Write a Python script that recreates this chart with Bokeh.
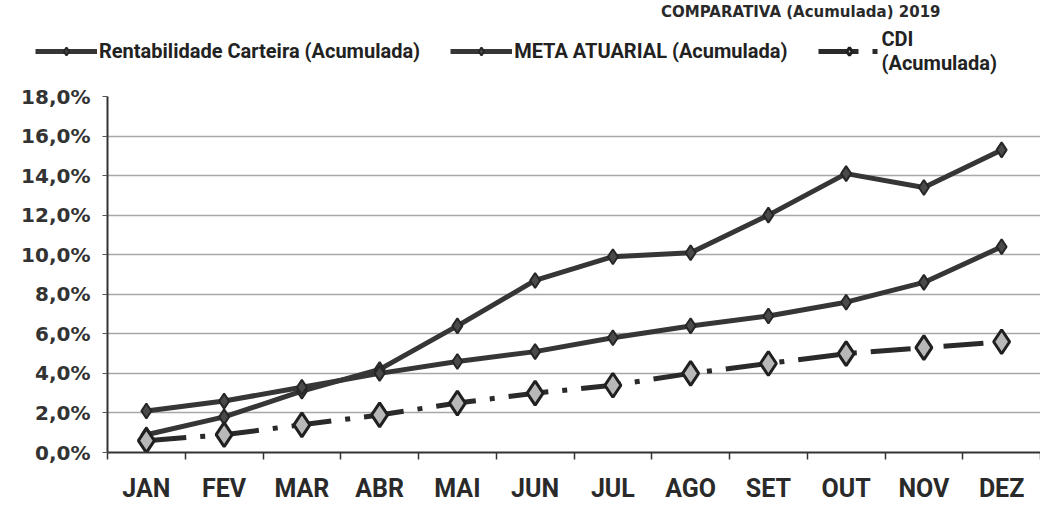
from bokeh.plotting import figure
from bokeh.layouts import column
from bokeh.models import Legend, LegendItem, FixedTicker, Range1d
from bokeh.embed import file_html
from bokeh.resources import INLINE

months = ["JAN", "FEV", "MAR", "ABR", "MAI", "JUN", "JUL", "AGO", "SET", "OUT", "NOV", "DEZ"]
rentabilidade = [0.9, 1.8, 3.1, 4.2, 6.4, 8.7, 9.9, 10.1, 12.0, 14.1, 13.4, 15.3]
meta_atuarial = [2.1, 2.6, 3.3, 4.0, 4.6, 5.1, 5.8, 6.4, 6.9, 7.6, 8.6, 10.4]
cdi = [0.6, 0.9, 1.4, 1.9, 2.5, 3.0, 3.4, 4.0, 4.5, 5.0, 5.3, 5.6]
y_ticks = [0, 2, 4, 6, 8, 10, 12, 14, 16, 18]
y_tick_labels = ["0,0%", "2,0%", "4,0%", "6,0%", "8,0%", "10,0%", "12,0%", "14,0%", "16,0%", "18,0%"]
legend_labels = ["Rentabilidade Carteira (Acumulada)", "META ATUARIAL (Acumulada)", "CDI\n(Acumulada)"]
title_text = "COMPARATIVA (Acumulada) 2019"

x = list(range(1, len(months) + 1))
series_list = [rentabilidade, meta_atuarial, cdi]

DARK = "#363636"
styles = [
    dict(line=dict(line_color=DARK, line_width=5),
         marker=dict(marker="diamond", size=15, fill_color="#4a4a4a", line_color="#262626", line_width=2)),
    dict(line=dict(line_color=DARK, line_width=5),
         marker=dict(marker="diamond", size=15, fill_color="#4a4a4a", line_color="#262626", line_width=2)),
    dict(line=dict(line_color="#2a2a2a", line_width=5, line_dash="40 14 5 14"),
         marker=dict(marker="diamond", size=24, fill_color="#b8b8b8", line_color="#202020", line_width=3)),
]

# ---- header figure: title + legend (its data lie outside its view) ----
top = figure(width=1040, height=80, output_backend="svg", toolbar_location=None,
             x_range=Range1d(0.5, len(months) + 0.5), y_range=Range1d(-101, -100),
             x_axis_location=None, y_axis_location=None,
             min_border_left=0, min_border_right=0, min_border_top=0, min_border_bottom=0,
             title=title_text)
if "frame_align" in top.properties():
    top.frame_align = False
top.outline_line_color = None
top.xgrid.grid_line_color = None
top.ygrid.grid_line_color = None
top.title.text_font = "DejaVu Sans"
top.title.text_font_style = "bold"
top.title.text_font_size = "15px"
top.title.text_color = "#2a2a2a"
top.title.align = "right"
top.title.offset = 100
top.title.standoff = 0

items = []
for label, series, st in zip(legend_labels, series_list, styles):
    lr = top.line(x, series, **st["line"])
    mr = top.scatter(x, series, **st["marker"])
    items.append(LegendItem(label=label, renderers=[lr, mr]))

legend = Legend(items=items, orientation="horizontal", location=(35, 5))
legend.label_text_font = "Roboto"
legend.label_text_font_style = "bold"
legend.label_text_font_size = "20px"
legend.label_text_color = "#222222"
legend.glyph_width = 62
legend.glyph_height = 20
legend.label_standoff = 2
legend.spacing = 30
legend.padding = 0
legend.margin = 0
legend.border_line_color = None
legend.background_fill_alpha = 0
top.add_layout(legend, "center")

# ---- main chart ----
p = figure(width=1040, height=432, output_backend="svg", toolbar_location=None,
           x_range=Range1d(0.5, len(months) + 0.5), y_range=Range1d(0, 18),
           min_border_left=107, min_border_right=0, min_border_top=16, min_border_bottom=60)
if "frame_align" in p.properties():
    p.frame_align = False
p.outline_line_color = None
p.background_fill_color = "white"

for series, st in zip(series_list, styles):
    p.line(x, series, **st["line"])
    p.scatter(x, series, **st["marker"])

p.xaxis.ticker = FixedTicker(ticks=x, minor_ticks=[i + 0.5 for i in range(len(months) + 1)])
p.xaxis.major_label_overrides = {i: m for i, m in zip(x, months)}
p.xaxis.major_tick_line_alpha = 0
p.xaxis.major_tick_out = 7
p.xaxis.major_tick_in = 0
p.xaxis.minor_tick_out = 7
p.xaxis.minor_tick_in = 0
p.xaxis.minor_tick_line_color = "#333333"
p.xaxis.minor_tick_line_width = 1.5
p.xaxis.axis_line_color = "#333333"
p.xaxis.axis_line_width = 2
p.xaxis.major_label_text_font = "Roboto"
p.xaxis.major_label_text_font_style = "bold"
p.xaxis.major_label_text_font_size = "25px"
p.xaxis.major_label_text_color = "#2a2a2a"
p.xaxis.major_label_standoff = 14

p.yaxis.ticker = FixedTicker(ticks=y_ticks)
p.yaxis.major_label_overrides = {t: l for t, l in zip(y_ticks, y_tick_labels)}
p.yaxis.minor_tick_line_color = None
p.yaxis.major_tick_out = 5
p.yaxis.major_tick_in = 0
p.yaxis.major_tick_line_color = "#555555"
p.yaxis.axis_line_color = "#333333"
p.yaxis.axis_line_width = 2
p.yaxis.major_label_text_font = "DejaVu Sans"
p.yaxis.major_label_text_font_style = "bold"
p.yaxis.major_label_text_font_size = "20px"
p.yaxis.major_label_text_color = "#333333"
p.yaxis.major_label_standoff = 12

p.xgrid.grid_line_color = None
p.ygrid.grid_line_color = "#a8a8a8"
p.ygrid.grid_line_width = 1.5

layout = column(top, p, spacing=0)
open("out.html", "w").write(file_html(layout, INLINE))
